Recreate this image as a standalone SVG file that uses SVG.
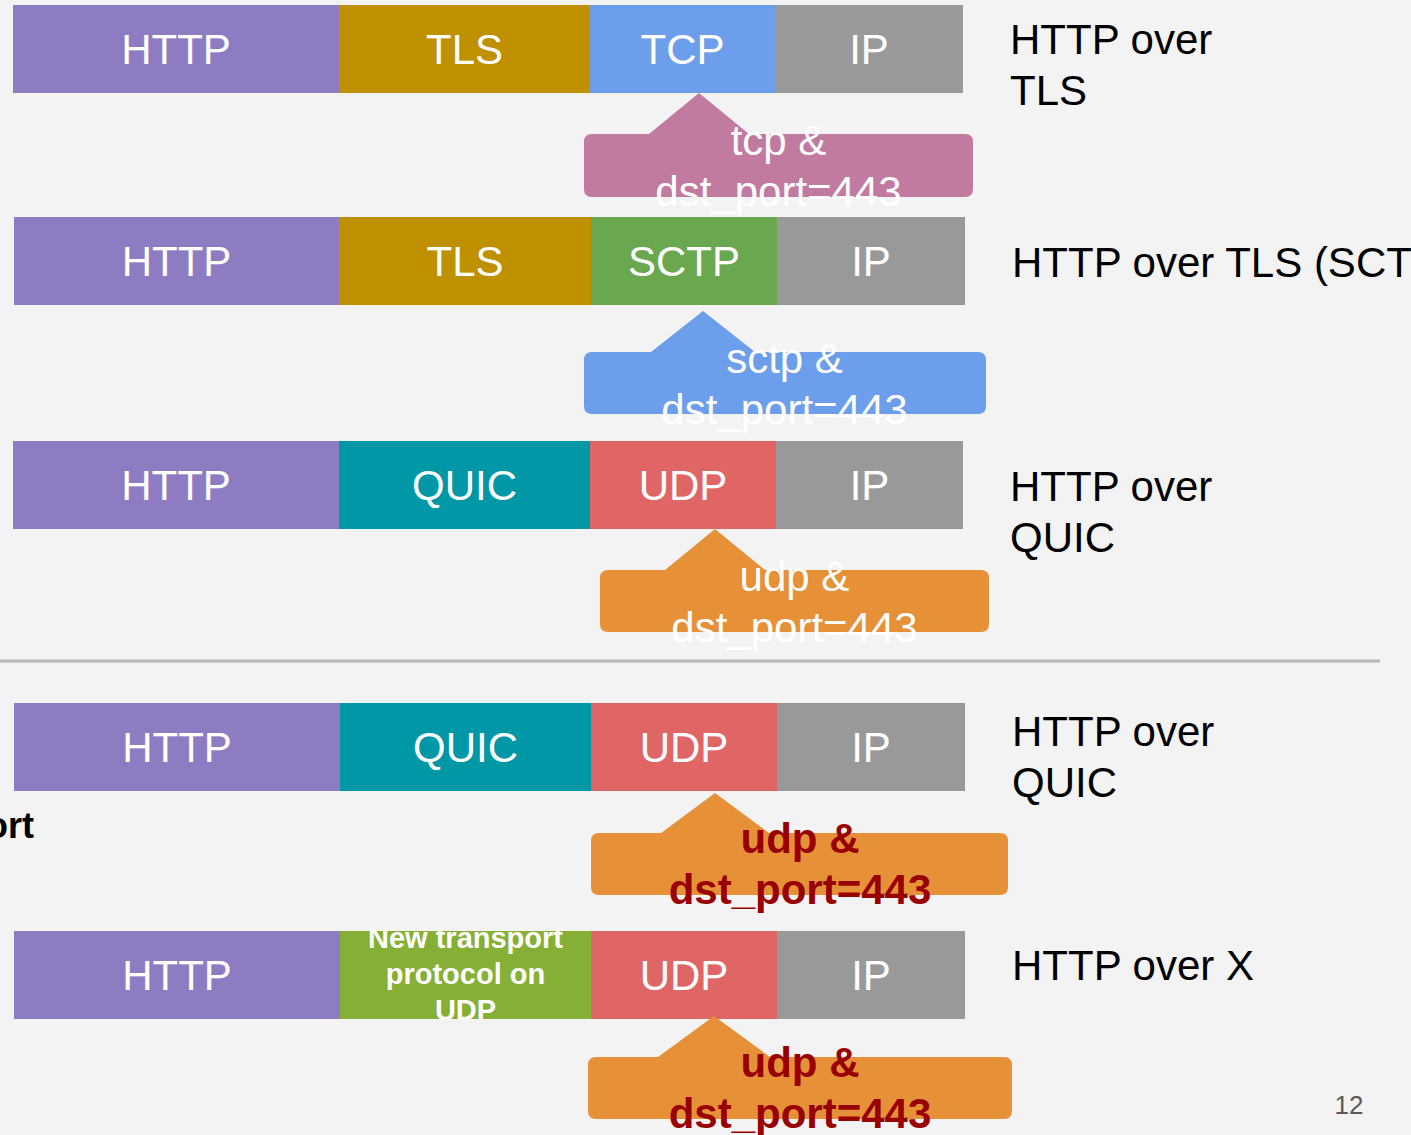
<svg xmlns="http://www.w3.org/2000/svg" width="1411" height="1135" viewBox="0 0 1411 1135">
<style>
.blk{font-family:"Liberation Sans",Arial,sans-serif;font-size:42px;fill:#ffffff;text-anchor:middle}
.lbl{font-family:"Liberation Sans",Arial,sans-serif;font-size:42px;fill:#000000}
.cw{font-family:"Liberation Sans",Arial,sans-serif;font-size:42px;fill:#ffffff;text-anchor:middle}
.cr{font-family:"Liberation Sans",Arial,sans-serif;font-size:42px;font-weight:bold;fill:#990000;text-anchor:middle}
.http{fill:#8e7cc3}.tls{fill:#bf9000}.tcp{fill:#6d9eeb}.ip{fill:#999999}.sctp{fill:#6aa84f}.quic{fill:#0097a7}.udp{fill:#e06666}.newt{fill:#86b035}
</style>
<rect x="0" y="0" width="1411" height="1135" fill="#f3f3f3"/>

<g id="row1">
<g id="r1-http"><rect class="http" x="13" y="5" width="326" height="88"/><text class="blk" x="176" y="64">HTTP</text></g>
<g id="r1-tls"><rect class="tls" x="339" y="5" width="251" height="88"/><text class="blk" x="464.5" y="64">TLS</text></g>
<g id="r1-tcp"><rect class="tcp" x="590" y="5" width="185" height="88"/><text class="blk" x="682.5" y="64">TCP</text></g>
<g id="r1-ip"><rect class="ip" x="775" y="5" width="188" height="88"/><text class="blk" x="869" y="64">IP</text></g>
<g id="r1-label"><text class="lbl" x="1010" y="54">HTTP over</text><text class="lbl" x="1010" y="105">TLS</text></g>
</g>

<g id="row2">
<g id="r2-http"><rect class="http" x="14" y="217" width="325" height="88"/><text class="blk" x="176.5" y="276">HTTP</text></g>
<g id="r2-tls"><rect class="tls" x="339" y="217" width="252" height="88"/><text class="blk" x="465" y="276">TLS</text></g>
<g id="r2-sctp"><rect class="sctp" x="591" y="217" width="186" height="88"/><text class="blk" x="684" y="276">SCTP</text></g>
<g id="r2-ip"><rect class="ip" x="777" y="217" width="188" height="88"/><text class="blk" x="871" y="276">IP</text></g>
<g id="r2-label"><text class="lbl" x="1012" y="277">HTTP over TLS (SCTP)</text></g>
</g>

<g id="row3">
<g id="r3-http"><rect class="http" x="13" y="441" width="326" height="88"/><text class="blk" x="176" y="500">HTTP</text></g>
<g id="r3-quic"><rect class="quic" x="339" y="441" width="251" height="88"/><text class="blk" x="464.5" y="500">QUIC</text></g>
<g id="r3-udp"><rect class="udp" x="590" y="441" width="186" height="88"/><text class="blk" x="683" y="500">UDP</text></g>
<g id="r3-ip"><rect class="ip" x="776" y="441" width="187" height="88"/><text class="blk" x="869.5" y="500">IP</text></g>
<g id="r3-label"><text class="lbl" x="1010" y="501">HTTP over</text><text class="lbl" x="1010" y="552">QUIC</text></g>
</g>

<line x1="0" y1="661" x2="1380" y2="661" stroke="#b7b7b7" stroke-width="3"/>

<g id="side-label"><text x="34" y="838" font-family="'Liberation Sans',Arial,sans-serif" font-size="36" font-weight="bold" fill="#000" text-anchor="end">ort</text></g>

<g id="row4">
<g id="r4-http"><rect class="http" x="14" y="703" width="326" height="88"/><text class="blk" x="177" y="762">HTTP</text></g>
<g id="r4-quic"><rect class="quic" x="340" y="703" width="251" height="88"/><text class="blk" x="465.5" y="762">QUIC</text></g>
<g id="r4-udp"><rect class="udp" x="591" y="703" width="186" height="88"/><text class="blk" x="684" y="762">UDP</text></g>
<g id="r4-ip"><rect class="ip" x="777" y="703" width="188" height="88"/><text class="blk" x="871" y="762">IP</text></g>
<g id="r4-label"><text class="lbl" x="1012" y="746">HTTP over</text><text class="lbl" x="1012" y="797">QUIC</text></g>
</g>

<g id="row5">
<g id="r5-http"><rect class="http" x="14" y="931" width="326" height="88"/><text class="blk" x="177" y="990">HTTP</text></g>
<g id="r5-new"><rect class="newt" x="340" y="931" width="251" height="88"/>
<text x="465.5" y="948" font-family="'Liberation Sans',Arial,sans-serif" font-size="29" font-weight="bold" fill="#ffffff" text-anchor="middle"><tspan x="465.5">New transport</tspan><tspan x="465.5" dy="36">protocol on</tspan><tspan x="465.5" dy="36">UDP</tspan></text></g>
<g id="r5-udp"><rect class="udp" x="591" y="931" width="186" height="88"/><text class="blk" x="684" y="990">UDP</text></g>
<g id="r5-ip"><rect class="ip" x="777" y="931" width="188" height="88"/><text class="blk" x="871" y="990">IP</text></g>
<g id="r5-label"><text class="lbl" x="1012" y="980">HTTP over X</text></g>
</g>

<g id="connectors">
<g id="callout1">
<path d="M699,93 L749,134 L965,134 Q973,134 973,142 L973,189 Q973,197 965,197 L592,197 Q584,197 584,189 L584,142 Q584,134 592,134 L649,134 Z" fill="#c27ba0"/>
<text class="cw" x="778.5" y="155">tcp &amp;</text><text class="cw" x="778.5" y="206">dst_port=443</text>
</g>
<g id="callout2">
<path d="M703,311 L755,352 L978,352 Q986,352 986,360 L986,406 Q986,414 978,414 L592,414 Q584,414 584,406 L584,360 Q584,352 592,352 L651,352 Z" fill="#6d9eeb"/>
<text class="cw" x="784.5" y="373">sctp &amp;</text><text class="cw" x="784.5" y="424">dst_port=443</text>
</g>
<g id="callout3">
<path d="M715,529 L765,570 L981,570 Q989,570 989,578 L989,624 Q989,632 981,632 L608,632 Q600,632 600,624 L600,578 Q600,570 608,570 L665,570 Z" fill="#e69138"/>
<text class="cw" x="794.5" y="591">udp &amp;</text><text class="cw" x="794.5" y="642">dst_port=443</text>
</g>
<g id="callout4">
<path d="M715,793 L769,833 L1000,833 Q1008,833 1008,841 L1008,887 Q1008,895 1000,895 L599,895 Q591,895 591,887 L591,841 Q591,833 599,833 L661,833 Z" fill="#e69138"/>
<text class="cr" x="800" y="853">udp &amp;</text><text class="cr" x="800" y="904">dst_port=443</text>
</g>
<g id="callout5">
<path d="M714,1016 L770,1057 L1004,1057 Q1012,1057 1012,1065 L1012,1111 Q1012,1119 1004,1119 L596,1119 Q588,1119 588,1111 L588,1065 Q588,1057 596,1057 L658,1057 Z" fill="#e69138"/>
<text class="cr" x="800" y="1077">udp &amp;</text><text class="cr" x="800" y="1128">dst_port=443</text>
</g>
</g>

<text x="1349" y="1114" font-family="'Liberation Sans',Arial,sans-serif" font-size="26" fill="#595959" text-anchor="middle">12</text>
</svg>
